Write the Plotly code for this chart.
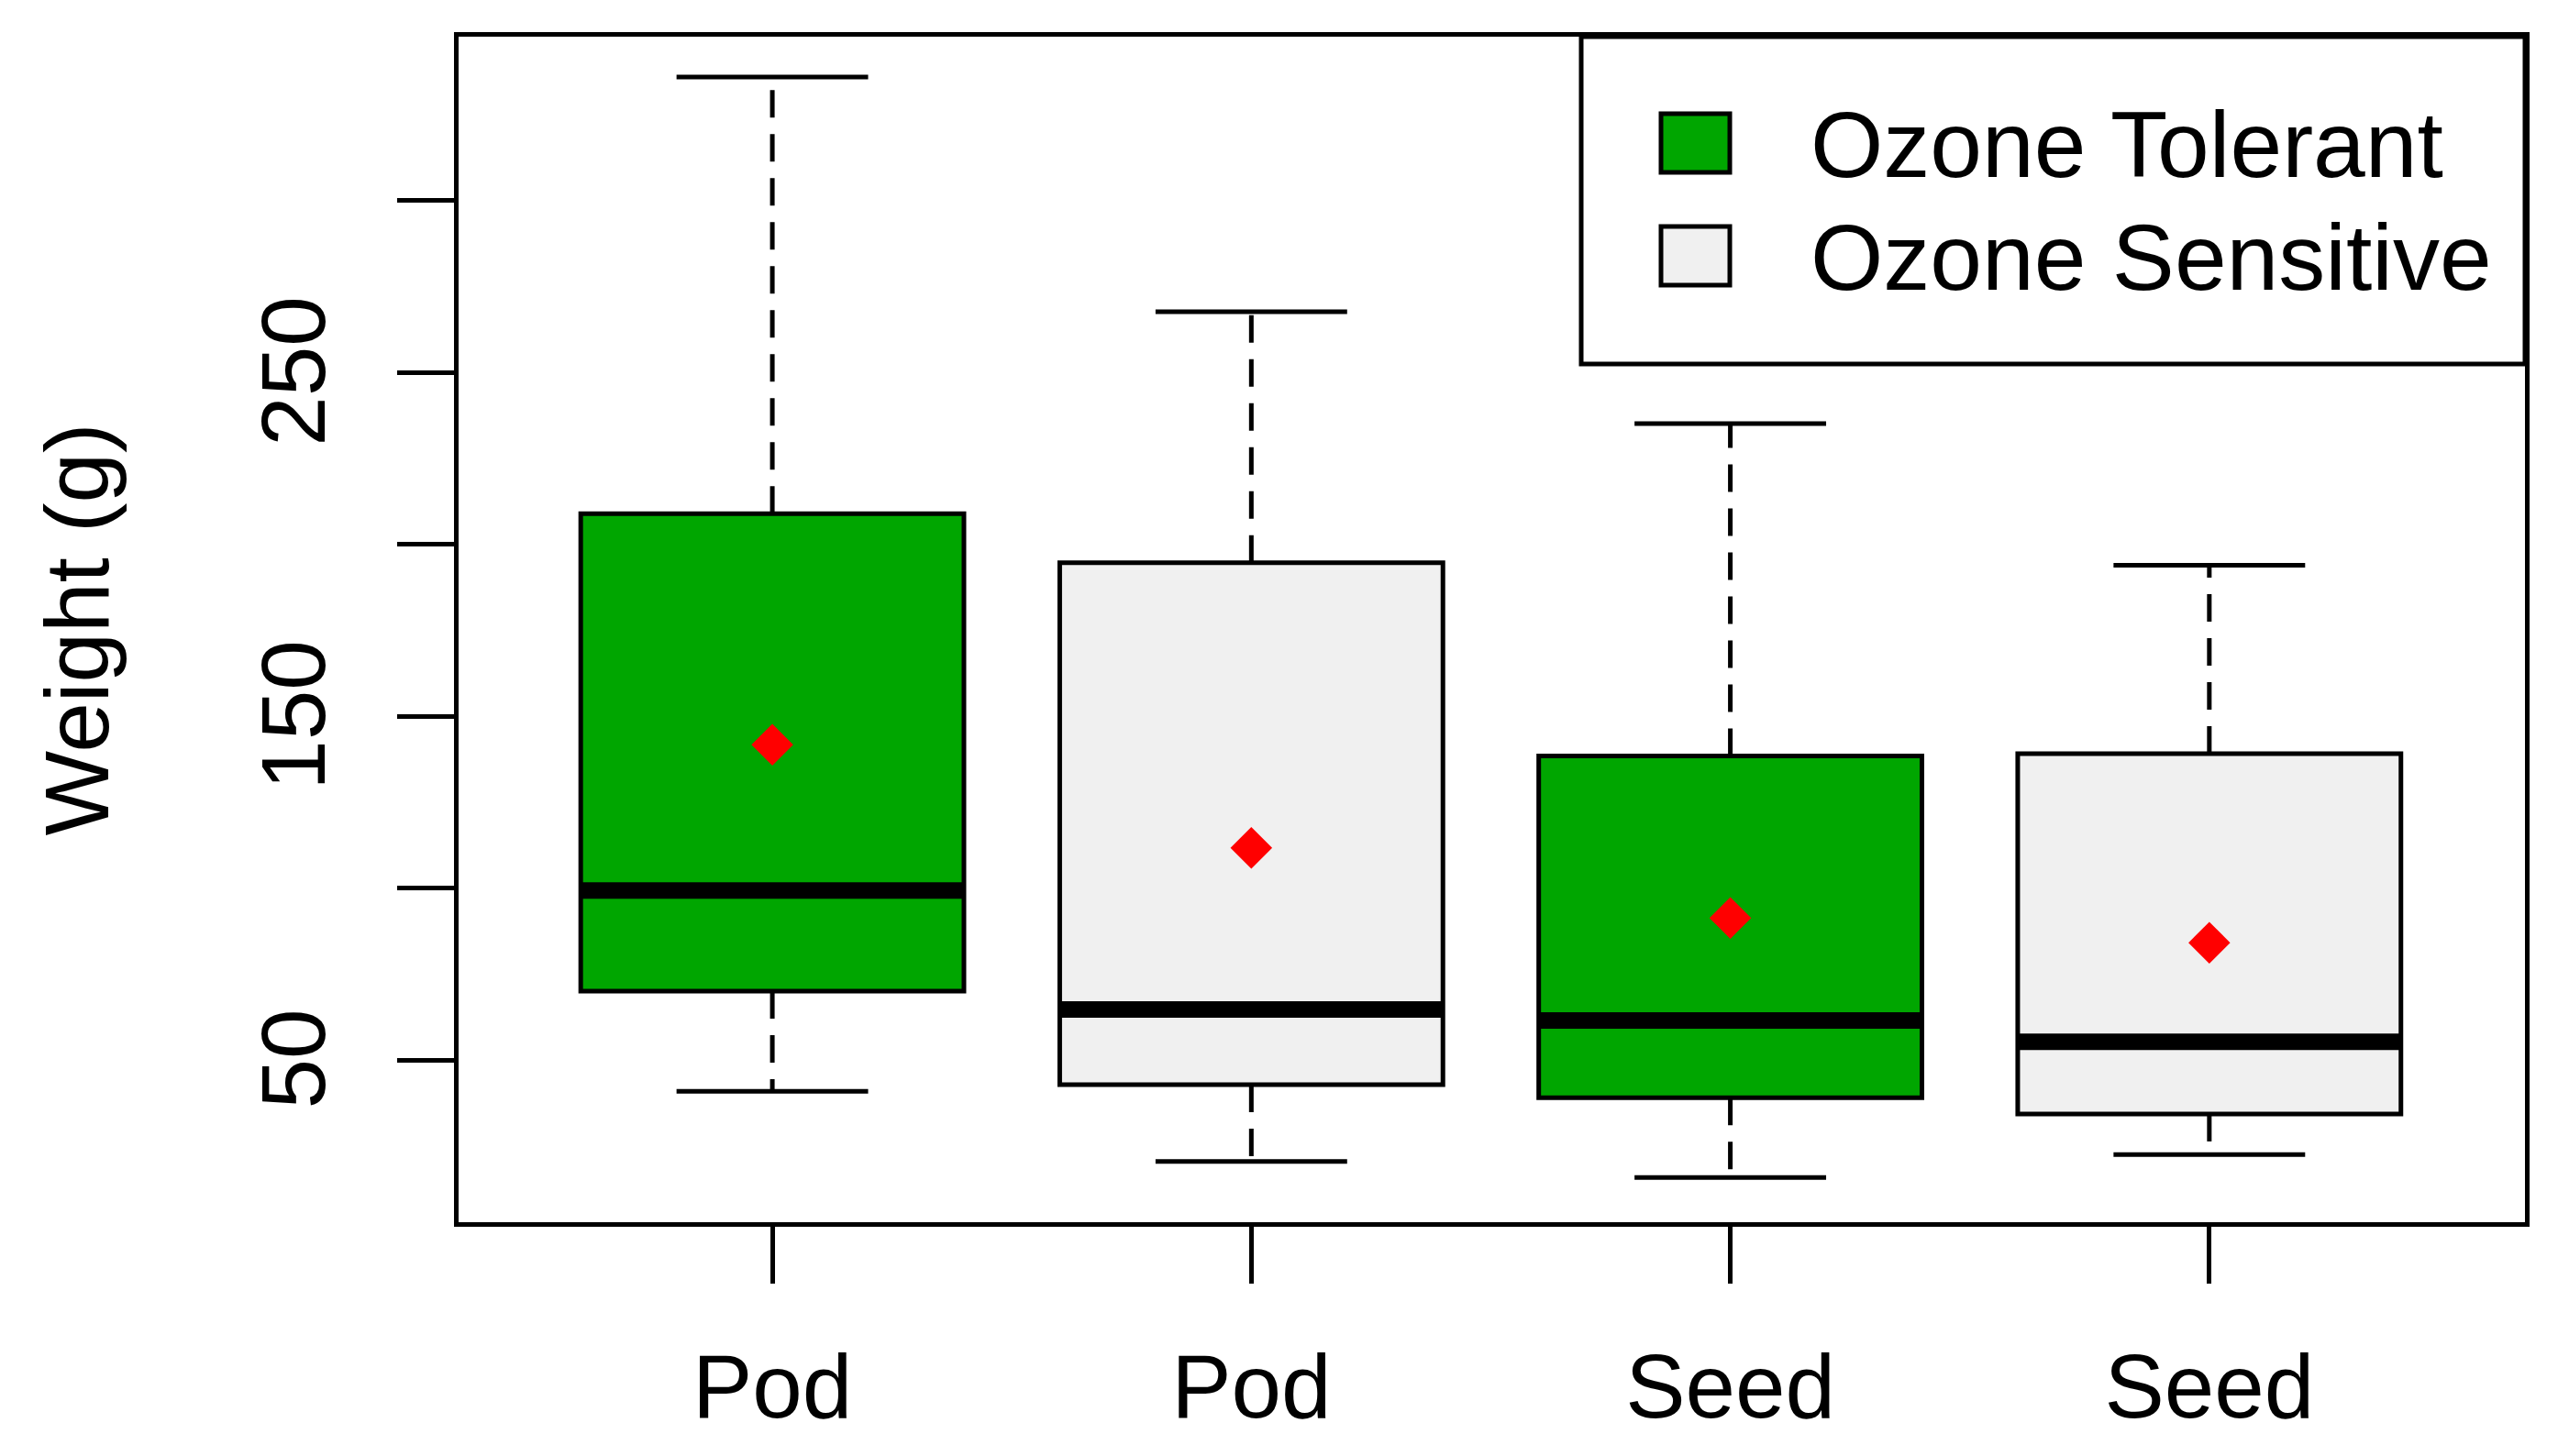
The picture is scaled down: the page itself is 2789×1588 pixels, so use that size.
import plotly.graph_objects as go

# box summaries (grams)
groups = ["Pod", "Pod", "Seed", "Seed"]
tolerance = ["Ozone Tolerant", "Ozone Sensitive", "Ozone Tolerant", "Ozone Sensitive"]
lower_whisker = [40.9, 20.5, 15.8, 22.5]
q1 = [70.0, 42.8, 39.0, 34.3]
median = [99.3, 64.7, 61.5, 55.3]
q3 = [208.9, 194.6, 138.4, 139.1]
upper_whisker = [335.9, 267.6, 235.1, 193.9]
means = [141.7, 111.7, 91.3, 84.1]

legend_labels = ["Ozone Tolerant", "Ozone Sensitive"]
colors = {"Ozone Tolerant": "#00A600", "Ozone Sensitive": "#F0F0F0"}

yticks = [50, 100, 150, 200, 250, 300]
ylabels = ["50", "", "150", "", "250", ""]

FONT = "Liberation Sans, Arial, sans-serif"
FS = 98
W, H = 2789, 1588
ML, MR, MT, MB = 500, 36, 40, 255
BOX_W = 0.8
CAP = 0.2
LW = 5

pos = list(range(1, len(groups) + 1))

fig = go.Figure()

# dashed whiskers (behind boxes)
wx, wy = [], []
for p, lo, a, b, hi in zip(pos, lower_whisker, q1, q3, upper_whisker):
    wx += [p, p, None, p, p, None]
    wy += [b, hi, None, a, lo, None]
fig.add_trace(go.Scatter(x=wx, y=wy, mode="lines", showlegend=False, hoverinfo="skip",
                         line=dict(color="black", width=LW, dash="30px,18px")))

# boxes
for lab in legend_labels:
    idx = [i for i, t in enumerate(tolerance) if t == lab]
    fig.add_trace(go.Bar(
        x=[pos[i] for i in idx],
        y=[q3[i] - q1[i] for i in idx],
        base=[q1[i] for i in idx],
        width=BOX_W, name=lab, showlegend=False,
        marker=dict(color=colors[lab], line=dict(color="black", width=LW)),
    ))

# whisker caps
cx, cy = [], []
for p, lo, hi in zip(pos, lower_whisker, upper_whisker):
    cx += [p - CAP, p + CAP, None, p - CAP, p + CAP, None]
    cy += [hi, hi, None, lo, lo, None]
fig.add_trace(go.Scatter(x=cx, y=cy, mode="lines", showlegend=False, hoverinfo="skip",
                         line=dict(color="black", width=LW)))

# medians
mx, my = [], []
for p, m in zip(pos, median):
    mx += [p - BOX_W / 2, p + BOX_W / 2, None]
    my += [m, m, None]
fig.add_trace(go.Scatter(x=mx, y=my, mode="lines", showlegend=False, hoverinfo="skip",
                         line=dict(color="black", width=18)))

# means
fig.add_trace(go.Scatter(x=pos, y=means, mode="markers", showlegend=False,
                         marker=dict(symbol="diamond", size=35, color="#FF0000")))

# hand-made legend box in the top right corner
pw, ph = W - ML - MR, H - MT - MB
def px_x(v):
    return (v - ML) / pw
def px_y(v):
    return (H - MB - v) / ph

shapes = [dict(type="rect", xref="paper", yref="paper", x0=px_x(1724), x1=1, y0=px_y(397), y1=1,
               line=dict(color="black", width=LW), fillcolor="white", layer="above")]
annotations = []
for k, lab in enumerate(legend_labels):
    top = 124 + k * 123
    shapes.append(dict(type="rect", xref="paper", yref="paper",
                       x0=px_x(1811), x1=px_x(1886), y0=px_y(top + 64), y1=px_y(top),
                       line=dict(color="black", width=LW), fillcolor=colors[lab], layer="above"))
    annotations.append(dict(text=lab, xref="paper", yref="paper", x=px_x(1972), y=px_y(top + 34),
                            xanchor="left", yanchor="middle", showarrow=False,
                            font=dict(family=FONT, size=102, color="black")))

# y axis title
annotations.append(dict(text="Weight (g)", xref="paper", yref="paper", x=px_x(140), y=0.5,
                        xanchor="right", yanchor="middle", textangle=-90, showarrow=False,
                        font=dict(family=FONT, size=FS, color="black")))

# trailing nbsp nudges the rotated labels so they sit centred on their ticks
ytext = [t + "\u00a0" if t else t for t in ylabels]

fig.update_layout(
    width=W, height=H,
    margin=dict(l=ML, r=MR, t=MT, b=MB),
    plot_bgcolor="white", paper_bgcolor="white",
    barmode="overlay",
    font=dict(family=FONT, size=FS, color="black"),
    shapes=shapes, annotations=annotations,
    xaxis=dict(range=[0.345, 4.659], tickvals=pos, ticktext=groups,
               ticks="outside", ticklen=62, tickwidth=LW, tickcolor="black",
               showline=True, linecolor="black", linewidth=LW, mirror=True,
               showgrid=False, zeroline=False, ticklabelstandoff=28),
    yaxis=dict(range=[2.8, 347.6], tickvals=yticks, ticktext=ytext, tickangle=-90,
               ticks="outside", ticklen=62, tickwidth=LW, tickcolor="black",
               showline=True, linecolor="black", linewidth=LW, mirror=True,
               showgrid=False, zeroline=False, ticklabelstandoff=40),
)

fig.write_html("out.html", config={"displayModeBar": False},
               post_script="document.body.style.margin='0';")
